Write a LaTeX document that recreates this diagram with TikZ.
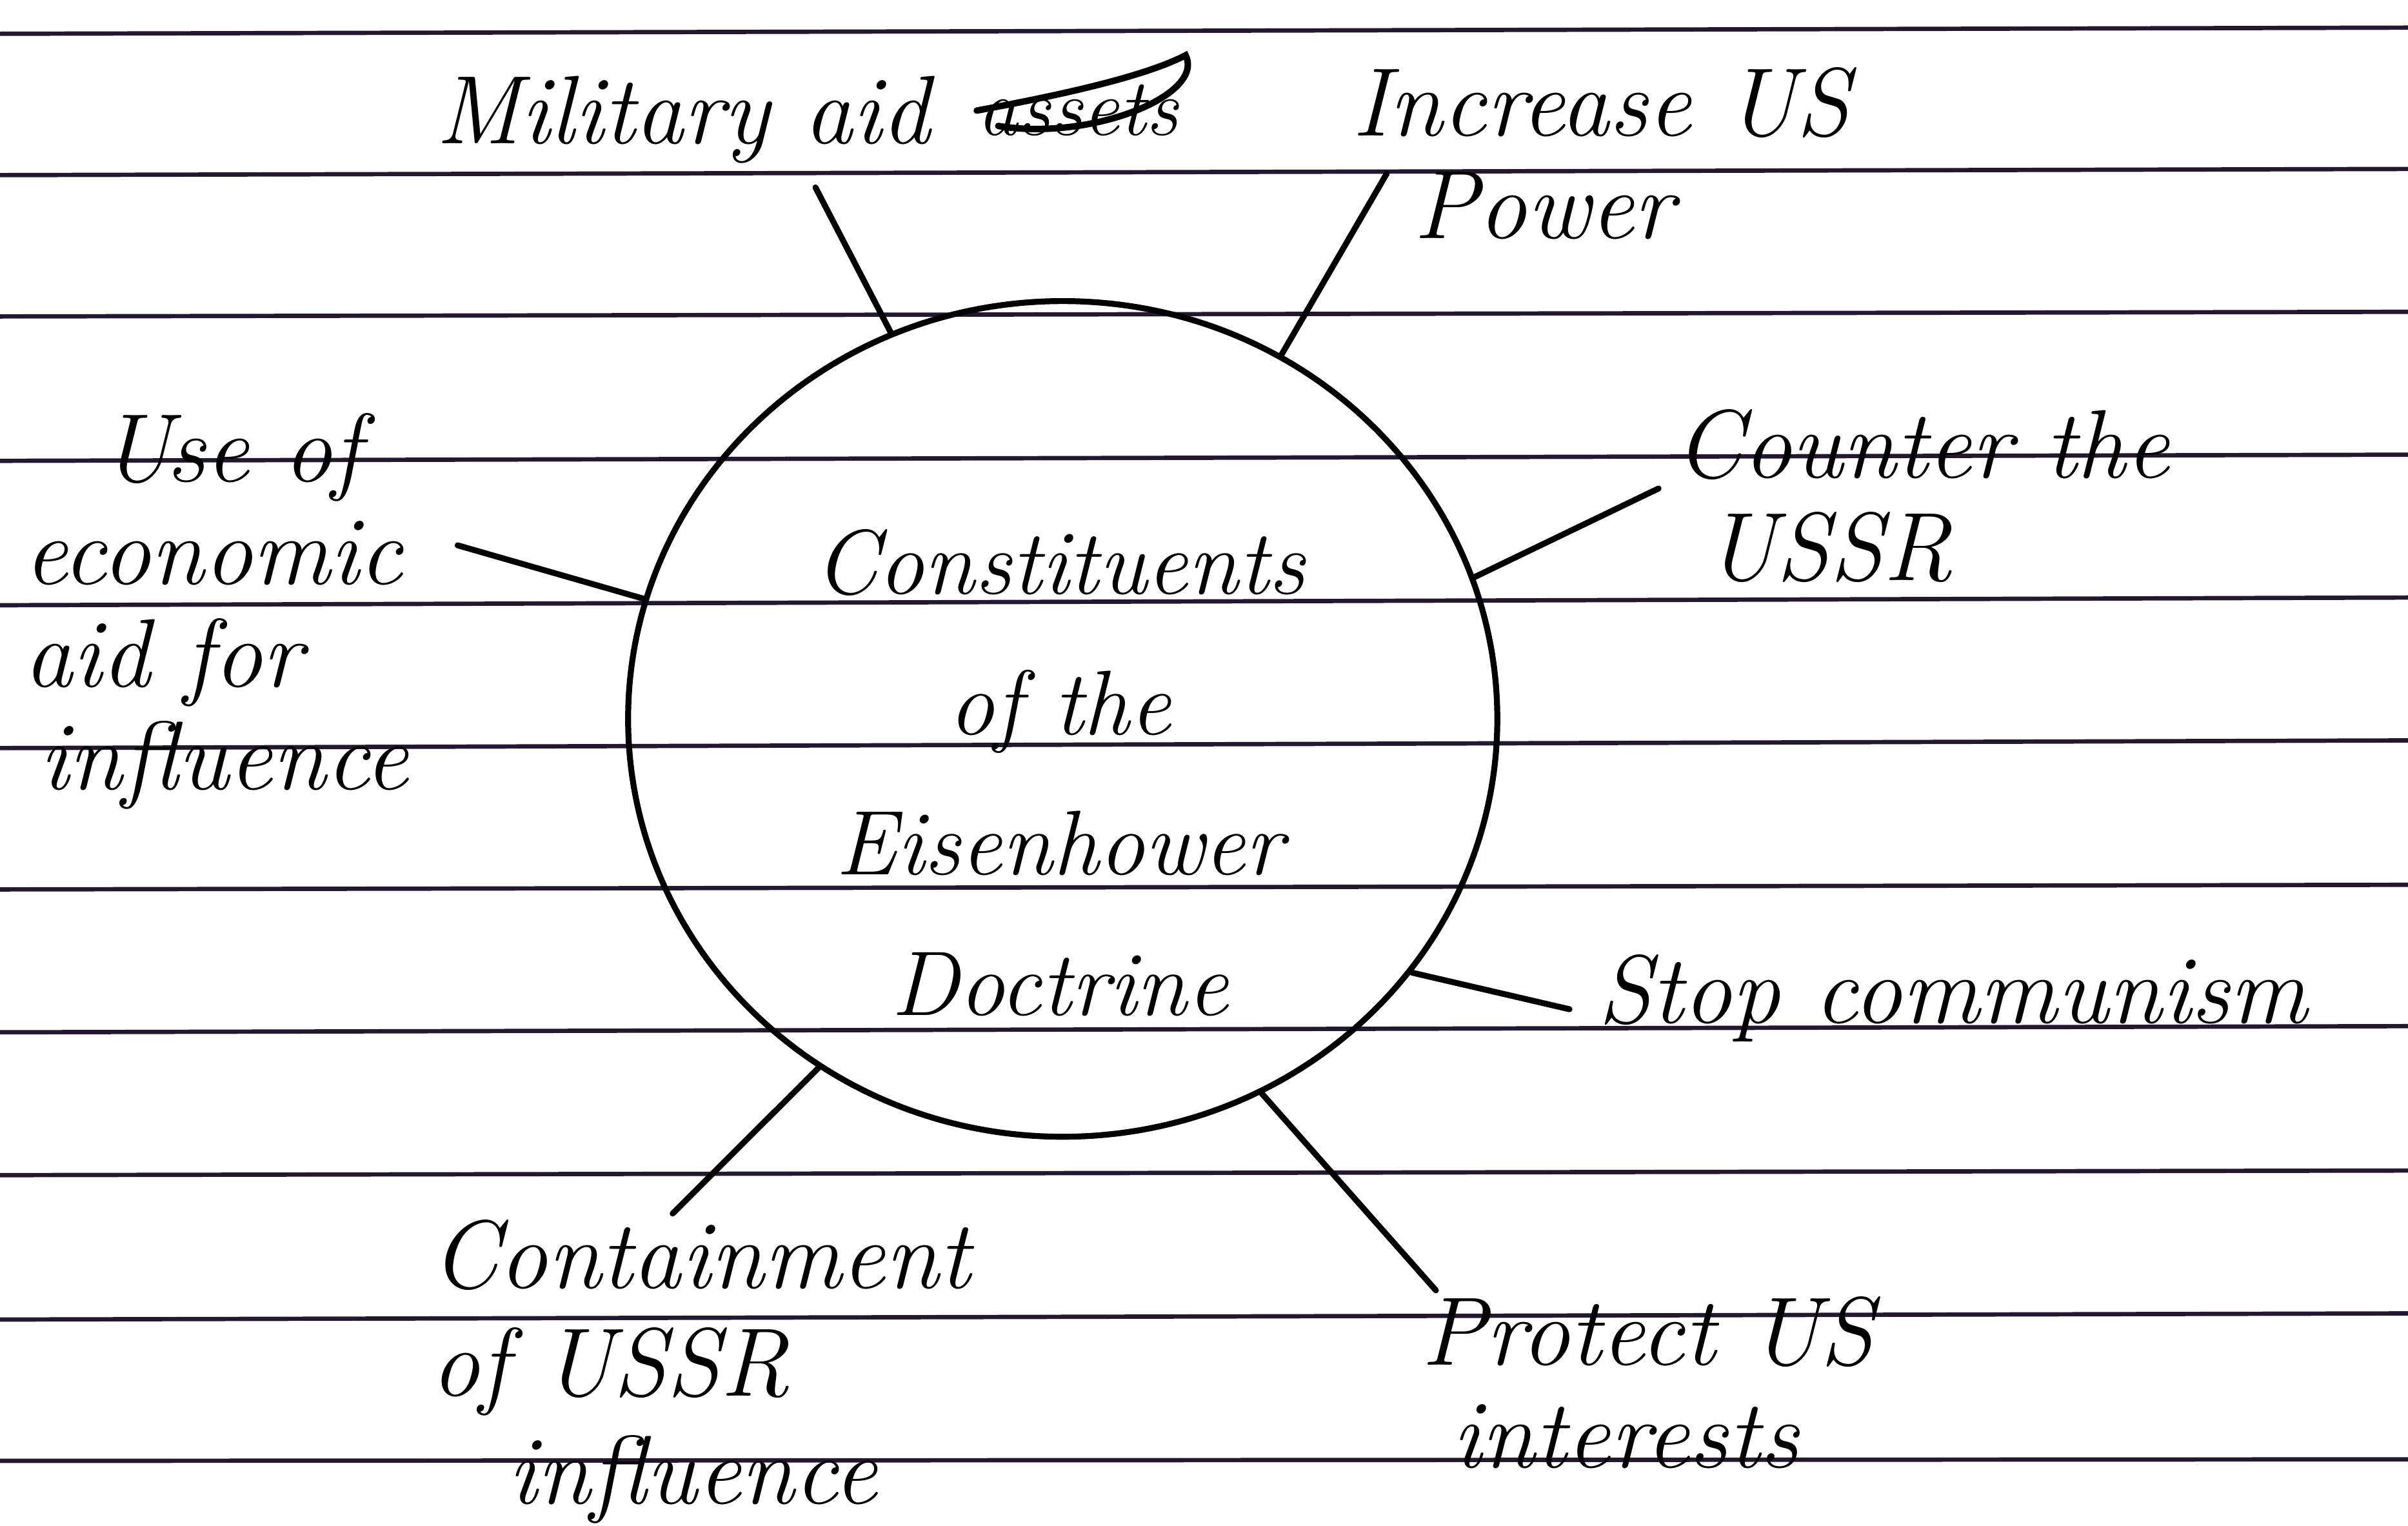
\documentclass[tikz,border=0pt]{standalone}
\usetikzlibrary{shapes.geometric}
\definecolor{ruling}{RGB}{35,24,48}
\begin{document}
\begin{tikzpicture}[x=0.1mm,y=-0.1mm,
  rule/.style={draw=ruling, line width=0.8pt},
  spoke/.style={draw=black, line width=1.1pt, line cap=round},
  lbl/.style={font=\itshape\fontsize{18}{19}\selectfont, align=left, anchor=west, inner sep=0pt},
  ctr/.style={font=\itshape\fontsize{17}{26}\selectfont, align=center, inner sep=0pt},
  hub/.style={ellipse, draw=black, line width=1.1pt, minimum width=56.6mm, minimum height=54.4mm, inner sep=0pt}]
\useasboundingbox (0,0) rectangle (1568,993);
\fill[white] (0,0) rectangle (1568,993);
% ruled paper
\foreach \yl/\yr in {22/18,114/110,206/203,300/296,394/389,487/482,579/576,672/668,765/762,859/855,951/950}
  \draw[rule] (0,\yl) -- (1568,\yr);
% central circle and title
\node[hub] (c) at (692,468) {};
\node[ctr] (title) at (690,503) {Constituents\\of the\\Eisenhower\\Doctrine};
% labels
\node[lbl] (mil) at (283,78) {Military aid};
\node[lbl, font=\itshape\fontsize{15}{16}\selectfont] (milx) at (636,72) {assets};
\node[lbl] (inc) at (880,100) {Increase US\\\hspace*{4mm}Power};
\node[lbl] (cou) at (1090,323) {Counter the\\\hspace*{2mm}USSR};
\node[lbl] (use) at (15,398) {\hspace*{5mm}Use of\\economic\\aid for\\\hspace*{1mm}influence};
\node[lbl] (stop) at (1040,650) {Stop communism};
\node[lbl] (pro) at (925,900) {Protect US\\\hspace*{2mm}interests};
\node[lbl, font=\itshape\fontsize{18}{20}\selectfont] (con) at (280,893) {Containment\\of USSR\\\hspace*{5mm}influence};
% scribble over the crossed-out word
\draw[line width=1.2pt, line cap=round] (milx.west) .. controls (690,62) and (745,50) .. (772,36)
  .. controls (785,62) and (710,92) .. (650,82);
% spoke ends
\coordinate (emil) at (531,122);
\coordinate (einc) at (903,113);
\coordinate (ecou) at (1080,318);
\coordinate (euse) at (298,355);
\coordinate (estop) at (1022,657);
\coordinate (epro) at (935,840);
\coordinate (econ) at (438,790);
% spokes
\draw[spoke] (c.114) -- (emil);
\draw[spoke] (c.59) -- (einc);
\draw[spoke] (c.19) -- (ecou);
\draw[spoke] (c.164) -- (euse);
\draw[spoke] (c.-36) -- (estop);
\draw[spoke] (c.-62) -- (epro);
\draw[spoke] (c.235) -- (econ);
\end{tikzpicture}
\end{document}
